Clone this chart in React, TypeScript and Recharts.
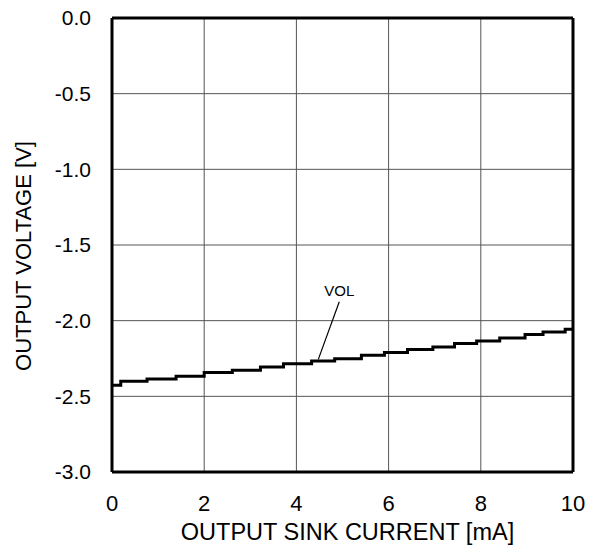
import React from 'react';
import { LineChart, Line, XAxis, YAxis, CartesianGrid, ReferenceLine, ReferenceDot } from 'recharts';

// sink current [mA] and output voltage [V] (step points)
const currentMA = [0, 0.19, 0.76, 1.39, 2.0, 2.61, 3.22, 3.72, 4.33, 4.83, 5.41, 5.91, 6.41, 6.96, 7.43, 7.91, 8.41, 8.96, 9.35, 9.83, 10];
const volVolts = [-2.427, -2.401, -2.386, -2.368, -2.343, -2.328, -2.306, -2.284, -2.267, -2.251, -2.229, -2.211, -2.191, -2.174, -2.151, -2.134, -2.114, -2.092, -2.075, -2.057, -2.057];

const xTicks = [0, 2, 4, 6, 8, 10];
const yTicks = [-3, -2.5, -2, -1.5, -1, -0.5, 0];

// leader line for the VOL callout, in data units
const calloutLine = [
    { x: 4.93, y: -1.875 },
    { x: 4.475, y: -2.256 },
];
const calloutText = { x: 4.93, y: -1.8, text: 'VOL' };

const data = currentMA.map((c, i) => ({ current: c, vol: volVolts[i] }));

const FONT = '"Liberation Sans", Arial, sans-serif';

export default function App() {
    return (
        <div style={{ position: 'absolute', left: 0, top: 0, background: '#fff' }}>
            <LineChart
                width={589}
                height={549}
                data={data}
                margin={{ top: 18, right: 16, bottom: 0, left: 0 }}
                style={{ fontFamily: FONT }}
            >
                <CartesianGrid stroke="#555" strokeWidth={1} />
                <XAxis
                    dataKey="current"
                    type="number"
                    domain={[0, 10]}
                    ticks={xTicks}
                    height={77}
                    tickLine={false}
                    tickSize={0}
                    tickMargin={23}
                    axisLine={{ stroke: '#000', strokeWidth: 3 }}
                    tick={{ fill: '#000', fontSize: 22 }}
                    label={{
                        value: 'OUTPUT SINK CURRENT [mA]',
                        position: 'insideBottom',
                        offset: 9,
                        dx: 5,
                        fill: '#000',
                        fontSize: 23.5,
                    }}
                />
                <YAxis
                    type="number"
                    domain={[-3, 0]}
                    ticks={yTicks}
                    width={112}
                    tickLine={false}
                    tickSize={0}
                    tickMargin={21}
                    axisLine={{ stroke: '#000', strokeWidth: 3 }}
                    tick={{ fill: '#000', fontSize: 21 }}
                    tickFormatter={(v: number) => v.toFixed(1)}
                    label={{
                        value: 'OUTPUT VOLTAGE [V]',
                        angle: -90,
                        position: 'center',
                        dx: -33,
                        dy: 11,
                        fill: '#000',
                        fontSize: 22,
                    }}
                />
                <ReferenceLine y={0} stroke="#000" strokeWidth={3} />
                <ReferenceLine x={10} stroke="#000" strokeWidth={3} />
                <ReferenceLine segment={calloutLine} stroke="#000" strokeWidth={1.2} />
                <ReferenceDot
                    x={calloutText.x}
                    y={calloutText.y}
                    r={0}
                    fill="none"
                    stroke="none"
                    label={{ value: calloutText.text, position: 'center', fill: '#000', fontSize: 15 }}
                />
                <Line
                    dataKey="vol"
                    type="stepAfter"
                    stroke="#000"
                    strokeWidth={3}
                    dot={false}
                    isAnimationActive={false}
                />
            </LineChart>
        </div>
    );
}
